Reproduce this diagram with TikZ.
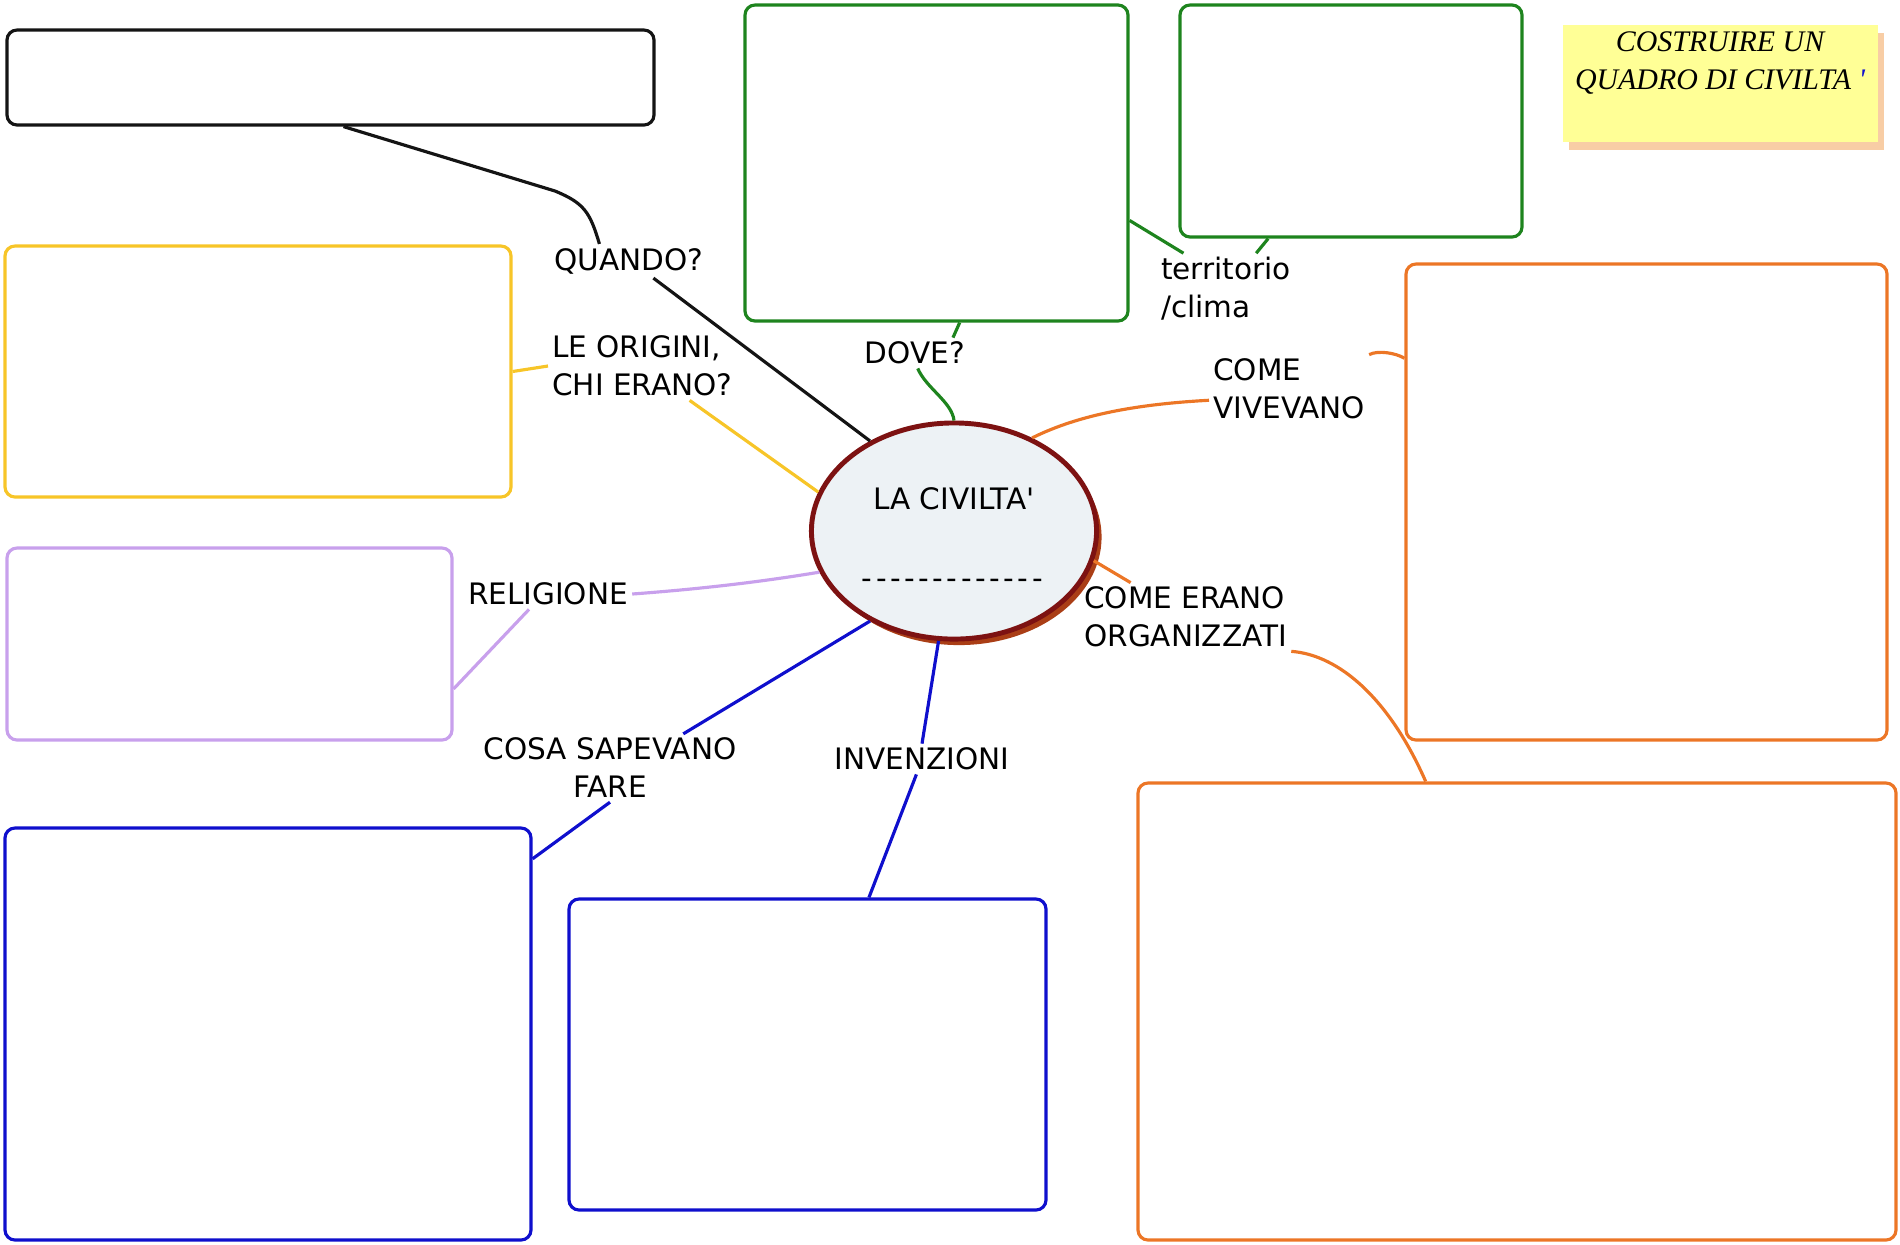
\documentclass[tikz,border=0pt]{standalone}
\usepackage{fontspec}
\setmainfont{DejaVu Sans}[Ligatures=TeXOff]
\newfontfamily\notefont{Liberation Serif}[Ligatures=TeXOff]
\usepackage{xcolor}
\usepackage{tikz}
\usetikzlibrary{positioning,calc,fit,shapes.geometric,shadows}
\definecolor{cblack}{RGB}{20,20,20}
\definecolor{cyellow}{RGB}{247,197,40}
\definecolor{cgreen}{RGB}{30,132,30}
\definecolor{cpurple}{RGB}{200,160,236}
\definecolor{cblue}{RGB}{15,15,205}
\definecolor{corange}{RGB}{236,118,38}
\definecolor{ring}{RGB}{125,18,18}
\definecolor{hubfill}{RGB}{237,242,245}
\definecolor{hubshade}{RGB}{170,62,22}
\definecolor{notefill}{RGB}{255,255,150}
\definecolor{noteshade}{RGB}{248,205,165}
\newcommand\labsize{\fontsize{8.4}{10.8}\selectfont}
\newcommand\dashrow{\foreach \i in {1,...,13}{-\kern1pt}}
\tikzset{
  box/.style={draw=#1, rounded corners=1mm, line width=.9pt, inner sep=0pt},
  lbl/.style={font=\labsize, inner sep=1pt, align=center},
  link/.style={draw=#1, line width=.9pt},
  hub/.style={ellipse, draw=ring, line width=1.4pt, fill=hubfill,
              minimum width=28.5mm, minimum height=21.6mm, inner sep=0pt,
              drop shadow={shadow xshift=.5mm, shadow yshift=-.6mm, fill=hubshade, opacity=1}},
  note/.style={fill=notefill, inner sep=0pt,
               drop shadow={shadow xshift=.6mm, shadow yshift=-.8mm, fill=noteshade, opacity=1}},
  heading/.style={font=\notefont\itshape\fontsize{8.5}{10.6}\selectfont, align=center, inner sep=0pt},
}

\begin{document}
\begin{tikzpicture}[x=0.01cm, y=-0.01cm]
    \useasboundingbox (0,0) rectangle (1900,1244);

    \node[note, fit={(1563,25) (1878,142)}] (note) {};
    \node[heading] (titolo) at (1720,63) {COSTRUIRE UN\\QUADRO DI CIVILTA {\color{cblue}'}};

    \node[hub] (civ) at (954,531) {};
    \node[lbl] (civtext) at ([yshift=-2pt]civ.center) {LA CIVILTA'\\[11.7pt]\dashrow};

    \node[lbl] (quando) at (629,261) {QUANDO?};
    \node[lbl, anchor=west, align=left] (origini) at (548,366) {LE ORIGINI,\\CHI ERANO?};
    \node[lbl] (dove) at (915,353) {DOVE?};
    \node[lbl, anchor=west, align=left] (terr) at (1157,289) {territorio\\/clima};
    \node[lbl, anchor=west, align=left] (vive) at (1209,389) {COME\\VIVEVANO};
    \node[lbl, anchor=west, align=left] (org) at (1080,617) {COME ERANO\\ORGANIZZATI};
    \node[lbl] (rel) at (548,594) {RELIGIONE};
    \node[lbl] (saper) at (610,768) {COSA SAPEVANO\\FARE};
    \node[lbl] (inv) at (922,759) {INVENZIONI};

    \node[box=cblack, fit={(7,30) (654,125)}] (quandobox) {};
    \node[box=cyellow, fit={(5,246) (511,497)}] (originibox) {};
    \node[box=cgreen, fit={(745,5) (1128,321)}] (dovebox) {};
    \node[box=cgreen, fit={(1180,5) (1522,237)}] (terrbox) {};
    \node[box=corange, fit={(1406,264) (1887,740)}] (vivebox) {};
    \node[box=corange, fit={(1138,783) (1896,1240)}] (orgbox) {};
    \node[box=cpurple, fit={(7,548) (452,740)}] (relbox) {};
    \node[box=cblue, fit={(5,828) (531,1240)}] (saperbox) {};
    \node[box=cblue, fit={(569,899) (1046,1210)}] (invbox) {};

    \draw[link=cblack] (civ.133) -- (quando.-35);
    \draw[link=cblack] (quando.150) .. controls (590,212) and (584,203) .. (555,191)
        -- ($(quandobox.south west)!.52!(quandobox.south east)$);
    \draw[link=cyellow] (civ.164) -- (origini.-36);
    \draw[link=cyellow] (origini.west) -- (originibox.east);
    \draw[link=cgreen] (civ.north) .. controls (952,402) and (926,388) .. (dove.-80);
    \draw[link=cgreen] ($(dove.north east)!.3!(dove.north)$) -- ($(dovebox.south west)!.56!(dovebox.south east)$);
    \draw[link=cgreen] ($(dovebox.north east)!.68!(dovebox.south east)$) -- (terr.140);
    \draw[link=cgreen] (terr.50) -- ($(terrbox.south west)!.26!(terrbox.south east)$);
    \draw[link=corange] (civ.50) .. controls (1080,414) and (1140,404) .. (vive.188);
    \draw[link=corange] (vive.north east) .. controls (1378,350) and (1396,353)
        .. ($(vivebox.north west)!.2!(vivebox.south west)$);
    \draw[link=corange] (civ.-12) -- (org.148);
    \draw[link=corange] (org.-18) .. controls (1340,655) and (1390,700)
        .. ($(orgbox.north west)!.38!(orgbox.north east)$);
    \draw[link=cpurple] (civ.197) .. controls (760,582) and (700,589) .. (rel.east);
    \draw[link=cpurple] (rel.-141) -- ($(relbox.north east)!.73!(relbox.south east)$);
    \draw[link=cblue] (civ.-133) -- (saper.25);
    \draw[link=cblue] (saper.south) -- ($(saperbox.north east)!.078!(saperbox.south east)$);
    \draw[link=cblue] (civ.-98) -- (inv.north);
    \draw[link=cblue] (inv.-110) -- ($(invbox.north west)!.628!(invbox.north east)$);
\end{tikzpicture}
\end{document}
